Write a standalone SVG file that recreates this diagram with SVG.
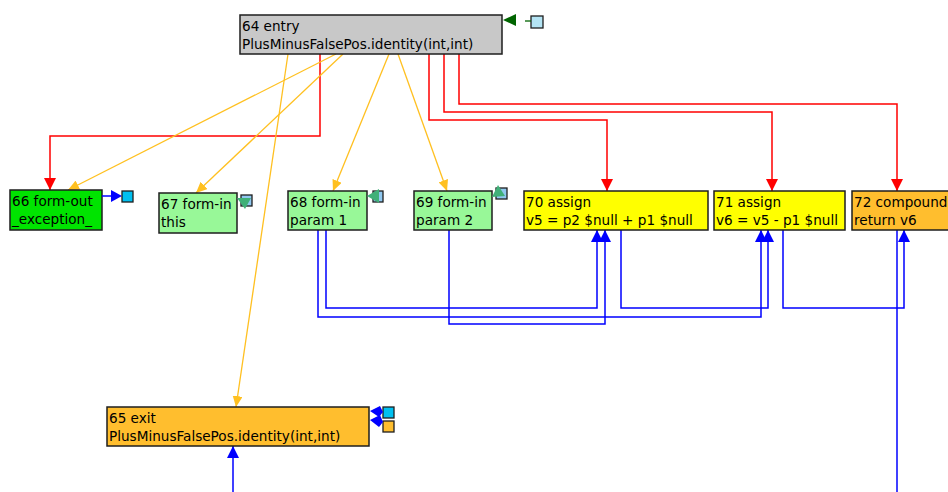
<svg xmlns="http://www.w3.org/2000/svg" width="948" height="492" viewBox="0 0 948 492">
<defs>
<style>
text{font-family:"DejaVu Sans","Noto Sans",sans-serif;font-size:13.6px;fill:#000}
.box{stroke:#1e1e1e;stroke-width:1.5}
.entry{fill:#c8c8c8}
.fout{fill:#00e400}
.fin{fill:#98f898}
.asg{fill:#ffff00}
.orn{fill:#ffbe2e}
.red{fill:none;stroke:#ff0000;stroke-width:1.5}
.yel{fill:none;stroke:#ffc020;stroke-width:1.3}
.blu{fill:none;stroke:#0000ff;stroke-width:1.5}
.sq{stroke:#1e1e1e;stroke-width:1.3}
.tl{fill:#40b078}
</style>
<marker id="aRed" markerUnits="userSpaceOnUse" markerWidth="12" markerHeight="12" viewBox="0 0 12 12" refX="12" refY="6" orient="auto">
<path d="M0,0 L12,6 L0,12 Z" fill="#ff0000"/>
</marker>
<marker id="aYel" markerUnits="userSpaceOnUse" markerWidth="11" markerHeight="10" viewBox="0 0 11 10" refX="11" refY="5" orient="auto">
<path d="M0,0 L11,5 L0,10 Z" fill="#ffc020"/>
</marker>
<marker id="aBlu" markerUnits="userSpaceOnUse" markerWidth="12" markerHeight="12" viewBox="0 0 12 12" refX="12" refY="6" orient="auto">
<path d="M0,0 L12,6 L0,12 Z" fill="#0000ff"/>
</marker>
</defs>

<g id="connectors">
<!-- control flow -->
<path class="red" d="M320,54 V136 H50 V190" marker-end="url(#aRed)"/>
<path class="red" d="M429,54 V120 H607 V191" marker-end="url(#aRed)"/>
<path class="red" d="M444,54 V112 H772 V191" marker-end="url(#aRed)"/>
<path class="red" d="M459,54 V104 H897 V191" marker-end="url(#aRed)"/>
<!-- control dependence -->
<path class="yel" d="M288,54 L236,407" marker-end="url(#aYel)"/>
<path class="yel" d="M336,54 L68,190" marker-end="url(#aYel)"/>
<path class="yel" d="M343,54 L196,193" marker-end="url(#aYel)"/>
<path class="yel" d="M389,54 L333,191" marker-end="url(#aYel)"/>
<path class="yel" d="M398,54 L447,191" marker-end="url(#aYel)"/>
<!-- data dependence -->
<path class="blu" d="M326,230 V308 H597 V230" marker-end="url(#aBlu)"/>
<path class="blu" d="M318,230 V317 H761 V230" marker-end="url(#aBlu)"/>
<path class="blu" d="M449,230 V324 H605 V230" marker-end="url(#aBlu)"/>
<path class="blu" d="M621,230 V308 H768 V230" marker-end="url(#aBlu)"/>
<path class="blu" d="M783,230 V308 H904 V230" marker-end="url(#aBlu)"/>
<path class="blu" d="M897,230 V492"/>
<path class="blu" d="M233,492 V446" marker-end="url(#aBlu)"/>
</g>

<g id="n64">
<rect class="box entry" x="240" y="15" width="262" height="39"/>
<text x="242" y="31">64 entry</text>
<text x="242" y="49">PlusMinusFalsePos.identity(int,int)</text>
<rect class="sq" x="531" y="16" width="12" height="12" fill="#b4e4f4"/>
<path d="M531,21 H525" stroke="#006400" stroke-width="1.3"/>
<path d="M503,20 L516,14 L516,26 Z" fill="#006400"/>
</g>

<g id="n66">
<rect class="box fout" x="10" y="190" width="92" height="40"/>
<text x="12" y="206">66 form-out</text>
<text x="12" y="224">_exception_</text>
<path d="M102,196 H112" stroke="#0000ff" stroke-width="1.5"/>
<path d="M122,196 L111,190 L111,202 Z" fill="#0000ff"/>
<rect class="sq" x="122" y="191" width="11" height="11" fill="#00c0f0"/>
</g>

<g id="n67">
<rect class="box fin" x="159" y="193" width="78" height="40"/>
<text x="161" y="209">67 form-in</text>
<text x="161" y="227">this</text>
<rect class="sq" x="241" y="195" width="11" height="11" fill="#90c8f0"/>
<path class="tl" d="M237,198 L251,198 L245,209 Z"/>
</g>

<g id="n68">
<rect class="box fin" x="288" y="191" width="79" height="39"/>
<text x="290" y="207">68 form-in</text>
<text x="290" y="225">param 1</text>
<rect class="sq" x="373" y="191" width="10" height="11" fill="#90c8f0"/>
<path class="tl" d="M367,196 L379,189 L379,203 Z"/>
</g>

<g id="n69">
<rect class="box fin" x="414" y="191" width="78" height="39"/>
<text x="416" y="207">69 form-in</text>
<text x="416" y="225">param 2</text>
<rect class="sq" x="496" y="188" width="11" height="11" fill="#90c8f0"/>
<path class="tl" d="M492,197 L498,185 L505,196 Z"/>
</g>

<g id="n70">
<rect class="box asg" x="524" y="191" width="184" height="39"/>
<text x="526" y="207">70 assign</text>
<text x="526" y="225">v5 = p2 $null + p1 $null</text>
</g>

<g id="n71">
<rect class="box asg" x="714" y="191" width="131" height="39"/>
<text x="716" y="207">71 assign</text>
<text x="716" y="225">v6 = v5 - p1 $null</text>
</g>

<g id="n72">
<rect class="box orn" x="852" y="191" width="110" height="39"/>
<text x="854" y="207">72 compound</text>
<text x="854" y="225">return v6</text>
</g>

<g id="n65">
<rect class="box orn" x="107" y="407" width="262" height="39"/>
<text x="109" y="423">65 exit</text>
<text x="109" y="441">PlusMinusFalsePos.identity(int,int)</text>
<rect class="sq" x="383" y="407" width="11" height="11" fill="#00c0f0"/>
<rect class="sq" x="383" y="421" width="11" height="11" fill="#ffbe2e"/>
<path d="M370,411 L380,406 L383,412 L379,417 Z" fill="#0000ff"/>
<path d="M370,420 L380,415 L383,422 L379,427 Z" fill="#0000ff"/>
</g>
</svg>
